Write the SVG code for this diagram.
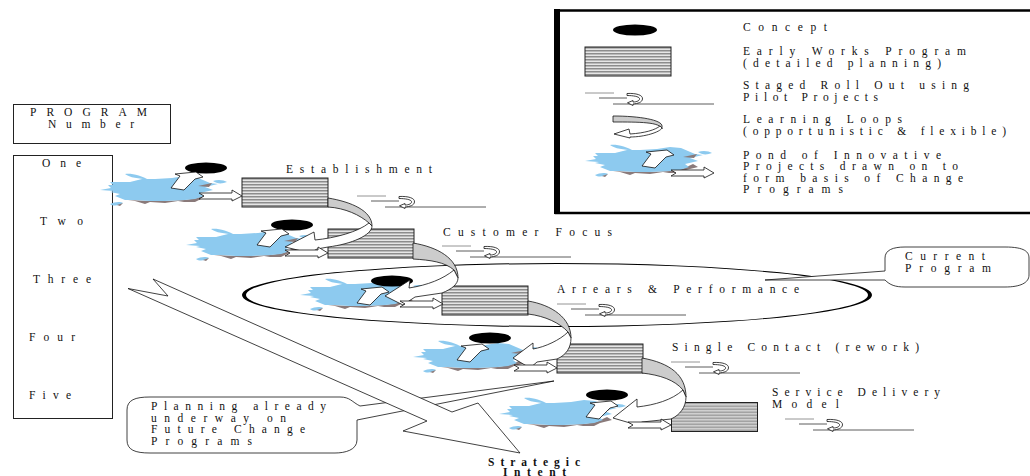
<svg xmlns="http://www.w3.org/2000/svg" xmlns:xlink="http://www.w3.org/1999/xlink" width="1030" height="476" viewBox="0 0 1030 476">
<style>
text{font-family:"Liberation Serif","Times New Roman",serif;font-size:11.5px;fill:#111}
.b{font-weight:bold}
.box{fill:#fff;stroke:#222;stroke-width:1}
.ln{fill:#fff;stroke:#111;stroke-width:.8}
.band{fill:#ccc;stroke:#111;stroke-width:.8}
.c{fill:#000}
.t{stroke:#333;stroke-width:.8;fill:none}
.g{stroke:#888;stroke-width:.9;fill:none}
</style>
<defs>
<pattern id="st" width="3" height="3" patternUnits="userSpaceOnUse"><rect width="3" height="3" fill="#e6e6e6"/><rect width="3" height="1.5" fill="#8c8c8c"/></pattern>
<g id="pond">
<path fill="#8a7a7a" d="M28,10L50,11L65,11L85,10L97,8L108,3L113,6L101,9L95,12L84,12L78,11L65,13L50,12L45,14L35,11Z"/>
<path fill="#8dcaef" d="M0,0L11,-2L8,-5L13,-5L10,-8L25,-8L30,-8L42,-11L55,-11L72,-12L85,-14L96,-13L110,-7L118,-6L105,-3L113,0L100,3L104,6L95,9L85,10L65,11L50,11L35,10L25,10L15,6L20,4L10,2L14,1Z"/>
<path fill="#8dcaef" d="M25,-16C32,-17 42,-14 49,-10C38,-12 30,-12 25,-16Z"/>
<path fill="#8dcaef" d="M113,-9C118,-11 124,-10 127,-8C122,-6 117,-6 113,-9Z"/>
<path fill="#8dcaef" d="M10,14C14,12 20,11 23,13C20,15 14,17 10,14Z"/>
<path fill="#8a7a7a" d="M98,-4L112,-7L109,-3ZM17,15L23,13L20,16Z"/>
</g>
<path id="up" class="ln" d="M0,0L9,-12L4,-14L25,-16L32,-11L24,-9L13,2Z"/>
<path id="ha" class="ln" d="M-43,-3L-10,-3L-10,-6L0,0L-10,5L-10,3L-43,3L-38,0Z"/>
<rect id="wr" width="86" height="29" fill="url(#st)" stroke="#222" stroke-width="1"/>
<g id="roll">
<path class="g" d="M0,0H29"/>
<path class="t" d="M14,5H42"/>
<path class="t" d="M28,11H129"/>
<path class="ln" d="M42,0.500C51,0 58,2 57.500,6C57,9.500 53,10.500 48,11L48,12.500L42.500,9.800L48,7.500L48,9C52,9 55,7.500 54.500,5.500C54,3.500 48,2.500 42,2.500Z"/>
</g>
</defs>

<g id="legend">
<rect class="box" x="556" y="10.500" width="490" height="202.500" style="stroke:#000;stroke-width:2.500"/>
<rect x="554" y="9" width="6" height="205" fill="#000"/>
<use href="#wr" x="585" y="47"/>
<ellipse class="c" cx="635" cy="30" rx="22" ry="5.500"/>
<use href="#roll" x="585" y="93"/>
<path class="band" d="M613,116C640,116 662,120 662,126L662,129C660,122 640,122 613,122Z"/>
<path class="ln" d="M660,126C655,130 645,133 630,134L629,129L614,134L630,138L630,137C645,137 660,132 662,128Z"/>
<use href="#pond" x="585" y="161"/>
<use href="#up" x="642" y="166"/>
<use href="#ha" x="714" y="173"/>
<text x="743" y="31" textLength="84">Concept</text>
<text x="743" y="55" textLength="223">Early Works Program</text>
<text x="743" y="67" textLength="198">(detailed planning)</text>
<text x="743" y="89" textLength="226">Staged Roll Out using</text>
<text x="743" y="101" textLength="135">Pilot Projects</text>
<text x="743" y="123" textLength="159">Learning Loops</text>
<text x="743" y="135" textLength="263">(opportunistic &amp; flexible)</text>
<text x="743" y="159" textLength="198">Pond of Innovative</text>
<text x="743" y="170" textLength="215">Projects drawn on to</text>
<text x="743" y="182" textLength="220">form basis of Change</text>
<text x="743" y="193" textLength="100">Programs</text>
</g>

<g id="program-header">
<rect class="box" x="13.500" y="104.500" width="157" height="39"/>
<text x="30" y="116" textLength="117">PROGRAM</text>
<text x="48" y="128" textLength="86">Number</text>
</g>
<g id="program-column">
<rect class="box" x="13.500" y="155.500" width="99" height="263"/>
<text x="42" y="167" textLength="39">One</text>
<text x="40" y="225" textLength="43">Two</text>
<text x="33" y="283" textLength="58">Three</text>
<text x="29" y="341" textLength="46">Four</text>
<text x="29" y="399" textLength="42">Five</text>
</g>

<g id="current-ring">
<path fill="#000" fill-rule="evenodd" d="M242,295A315,32 0 1 1 872,295A315,32 0 1 1 242,295ZM246,295A311,31 0 1 0 868,295A311,31 0 1 0 246,295Z"/>
</g>
<g id="current-callout">
<path class="ln" d="M905,247L1005,247C1025,247 1029,252 1029,258L1029,275C1029,283 1020,287 1005,287L905,287C895,287 890,285 885,280L765,280L885,271L885,258C885,250 893,247 905,247Z"/>
<text x="905" y="260" textLength="80">Current</text>
<text x="905" y="272" textLength="86">Program</text>
</g>

<g id="stage-1">
<use href="#pond" x="100" y="190"/>
<ellipse class="c" cx="206" cy="168" rx="21" ry="5.500"/>
<use href="#up" x="171" y="188"/>
<use href="#wr" x="242" y="178"/>
<text x="286" y="173" textLength="146">Establishment</text>
<use href="#roll" x="357" y="196"/>
</g>
<g id="stage-2">
<use href="#pond" x="186" y="245"/>
<ellipse class="c" cx="292" cy="225" rx="21" ry="5.500"/>
<use href="#up" x="257" y="245"/>
<use href="#wr" x="328" y="229"/>
<text x="443" y="236" textLength="169">Customer Focus</text>
<use href="#roll" x="442" y="246"/>
</g>
<g id="stage-3">
<use href="#pond" x="300" y="295"/>
<ellipse class="c" cx="392" cy="281" rx="21" ry="5.500"/>
<use href="#up" x="357" y="303"/>
<use href="#wr" x="442" y="286"/>
<text x="557" y="293" textLength="242">Arrears &amp; Performance</text>
<use href="#roll" x="557" y="304"/>
</g>
<g id="stage-4">
<use href="#pond" x="413" y="357"/>
<ellipse class="c" cx="490" cy="338" rx="21" ry="5.500"/>
<use href="#up" x="457" y="360"/>
<use href="#wr" x="557" y="344"/>
<text x="672" y="351" textLength="247">Single Contact (rework)</text>
<use href="#roll" x="671" y="362"/>
</g>
<g id="stage-5">
<use href="#pond" x="499" y="414"/>
<ellipse class="c" cx="607" cy="395" rx="21" ry="5.500"/>
<use href="#up" x="586" y="417"/>
<use href="#wr" x="671.500" y="402.500"/>
<text x="772" y="396" textLength="168">Service Delivery</text>
<text x="772" y="408" textLength="67">Model</text>
<use href="#roll" x="785" y="419"/>
</g>

<g id="connectors">
<path class="band" d="M328,198C352,202 372,211 372,226L369,223C360,215 345,208 328,207Z"/>
<path class="ln" d="M369,223C358,232 335,238 315,240L314,232L285,247L310,253L317,249L328,247C352,244 372,235 372,226Z"/>
<path class="band" d="M413,243C437,247 458,258 458,278L454,270C445,262 430,260 413,259Z"/>
<path class="ln" d="M454,270C443,279 428,285 409,288L410,280L385,296L403,305L415,297L442,293C452,289 458,284 458,278Z"/>
<path class="band" d="M528,301C552,305 571,318 571,338L568,332C560,323 545,316 528,314Z"/>
<path class="ln" d="M568,332C560,340 545,347 533,349L533,343L513,358L530,368L537,362L557,359C566,355 571,348 571,338Z"/>
<path class="band" d="M642,358C670,363 686,375 686,397L683,390C675,380 660,375 642,373Z"/>
<path class="ln" d="M683,390C672,400 655,405 637,407L637,399L613,418L637,425L642,422L671,419C680,415 686,407 686,397Z"/>
<use href="#ha" x="242" y="196"/>
<use href="#ha" x="328" y="253"/>
<use href="#ha" x="443" y="304"/>
<use href="#ha" x="557" y="368"/>
<use href="#ha" x="671" y="425"/>
</g>

<g id="planning-callout">
<path class="ln" d="M150,397L340,397C350,397 352,402 360,406L554,381L357,420L357,440C357,450 345,453 335,453L150,453C135,453 127,450 127,440L127,410C127,400 135,397 150,397Z"/>
<text x="151" y="410" textLength="175">Planning already</text>
<text x="151" y="422" textLength="135">underway on</text>
<text x="151" y="433" textLength="154">Future Change</text>
<text x="151" y="445" textLength="101">Programs</text>
</g>
<g id="strategic-intent">
<path class="ln" d="M128,288.500L168,296L153,279L452,412L478,403L520,453L403,431L427,421Z"/>
<text class="b" x="488" y="466" textLength="92">Strategic</text>
<text class="b" x="503" y="476" textLength="63">Intent</text>
</g>
</svg>
